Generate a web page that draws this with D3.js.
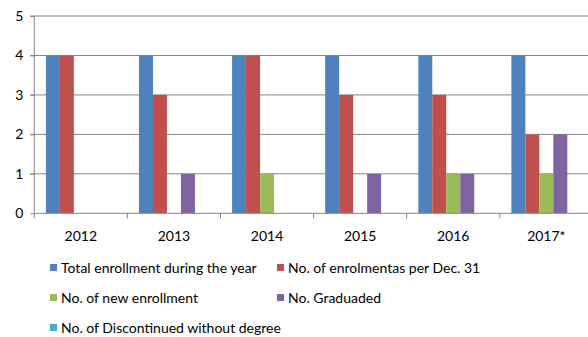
<!DOCTYPE html>
<html><head><meta charset="utf-8">
<script src="https://cdn.jsdelivr.net/npm/d3@7"></script>
<style>body{margin:0;background:#fff}svg{display:block}</style>
</head><body><svg id="c" width="588" height="337"></svg>
<script>
const categories = ["2012","2013","2014","2015","2016","2017*"];
const seriesNames = ["Total enrollment during the year","No. of enrolmentas per Dec. 31","No. of new enrollment","No. Graduaded","No. of Discontinued without degree"];
const totalEnrollment = [4,4,4,4,4,4];
const enrolledDec31 = [4,3,4,3,3,2];
const newEnrollment = [0,0,1,0,1,1];
const graduated = [0,1,0,1,1,2];
const discontinued = [0,0,0,0,0,0];
const yTicks = [0,1,2,3,4,5];
const colors = ["#4F81BD","#C0504D","#9BBB59","#8064A2","#4BACC6"];
const seriesValues = [totalEnrollment, enrolledDec31, newEnrollment, graduated, discontinued];

const svg = d3.select("#c");
const font = "Lato, 'Open Sans', sans-serif";
const x0 = 34.3, plotR = 34.3 + 6*93.1, yTop = 16, yBot = 213.3;
const x = d3.scaleBand().domain(categories).range([x0, plotR]).paddingInner(0).paddingOuter(0);
const xs = d3.scaleBand().domain(d3.range(seriesNames.length)).range([0, x.bandwidth()]).paddingInner(0).paddingOuter(0.1254/ (1-0.1254*0) * 1);
// compute bar width 14 with ~11.6 margins
const y = d3.scaleLinear().domain([0,5]).range([yBot, yTop]);

// gridlines
svg.append("g").selectAll("line").data(yTicks.filter(d=>d>0)).join("line")
  .attr("x1", x0-4).attr("x2", plotR).attr("y1", d=>y(d)).attr("y2", d=>y(d))
  .attr("stroke","#868686").attr("stroke-width",1);

// bars
const inner = d3.scaleBand().domain(d3.range(5)).range([11.6, x.bandwidth()-11.6]);
seriesValues.forEach((vals, si) => {
  svg.append("g").selectAll("rect").data(vals).join("rect")
    .attr("x", (d,i)=> x(categories[i]) + inner(si))
    .attr("width", inner.bandwidth())
    .attr("y", d=>y(d)).attr("height", d=>yBot - y(d))
    .attr("fill", colors[si]);
});

// y axis
const yAxis = d3.axisLeft(y).tickValues(yTicks).tickSize(4).tickFormat(d3.format("d"));
const gy = svg.append("g").attr("transform",`translate(${x0},0)`).call(yAxis);
gy.select(".domain").attr("stroke","#868686").attr("d",`M-0,${yBot}V${yTop}`);
gy.selectAll(".tick line").attr("stroke","#868686");
gy.selectAll("text").attr("font-family",font).attr("font-size",14).attr("fill","#000").attr("x",-11);

// x axis
svg.append("line").attr("x1",x0).attr("x2",plotR).attr("y1",yBot).attr("y2",yBot).attr("stroke","#868686");
svg.append("g").selectAll("line").data(d3.range(categories.length+1)).join("line")
  .attr("x1", i=> x0 + i*x.bandwidth()).attr("x2", i=> x0 + i*x.bandwidth())
  .attr("y1", yBot).attr("y2", yBot+5).attr("stroke","#868686");
svg.append("g").selectAll("text").data(categories).join("text")
  .attr("x", d=>x(d)+x.bandwidth()/2).attr("y", 241)
  .attr("text-anchor","middle").attr("font-family",font).attr("font-size",14).attr("fill","#000")
  .text(d=>d);

// legend
const legPos = [[50,268],[277,268],[50,298],[277,298],[50,328]];
const lg = svg.append("g").selectAll("g").data(seriesNames).join("g")
  .attr("transform",(d,i)=>`translate(${legPos[i][0]},${legPos[i][1]})`);
lg.append("rect").attr("x",0).attr("y",-4).attr("width",7).attr("height",7).attr("fill",(d,i)=>colors[i]);
lg.append("text").attr("x",11).attr("y",5).attr("font-family",font).attr("font-size",14).attr("fill","#000").text(d=>d);
</script></body></html>
